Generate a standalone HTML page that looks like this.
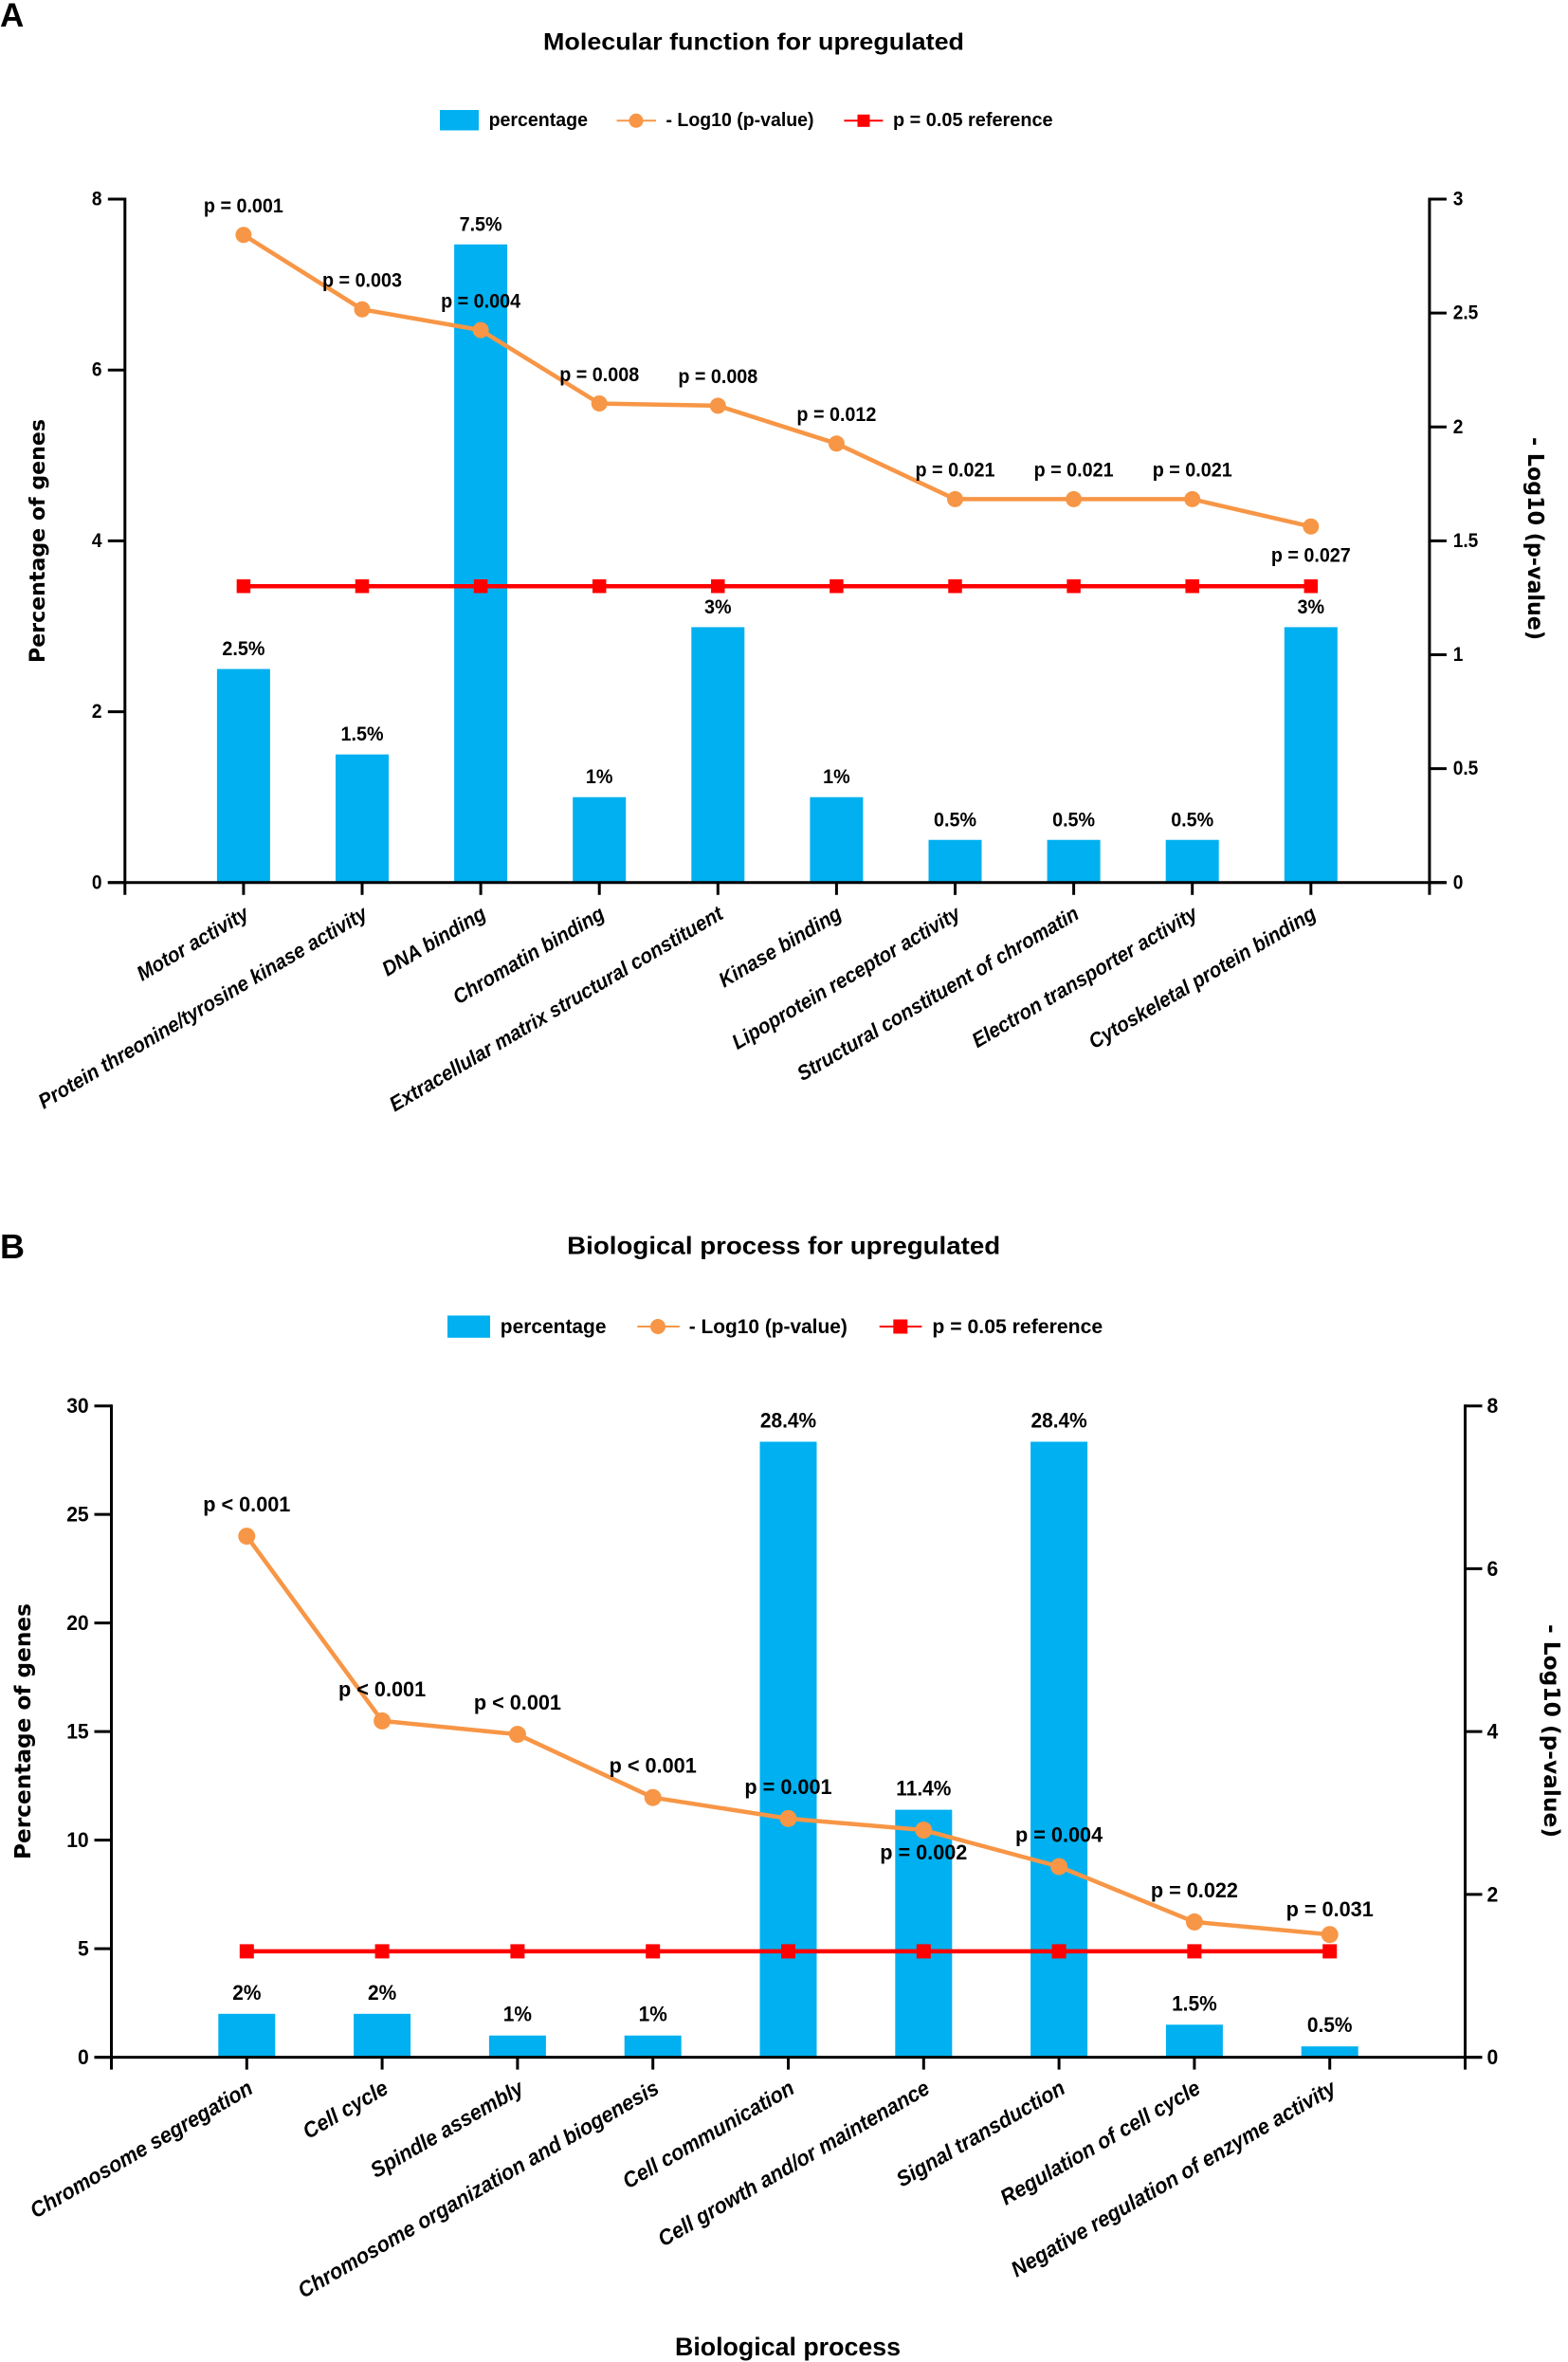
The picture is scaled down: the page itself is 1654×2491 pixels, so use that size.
<!DOCTYPE html>
<html lang="en">
<head>
<meta charset="utf-8">
<title>Gene ontology charts for upregulated genes</title>
<style>
html,body{margin:0;padding:0;background:#fff;}
svg{display:block;}
text{font-family:"Liberation Sans",sans-serif;font-weight:bold;fill:#000;}
.dv{font-family:"DejaVu Sans","Liberation Sans",sans-serif;}
</style>
</head>
<body>
<svg id="figure" xmlns="http://www.w3.org/2000/svg" width="1654" height="2491" viewBox="0 0 1654 2491">
  <rect x="0" y="0" width="1654" height="2491" fill="#fff"/>

  <g id="chartA">
    <text x="0" y="28" font-size="35">A</text>
    <text x="573" y="52.5" font-size="25" textLength="444" lengthAdjust="spacingAndGlyphs">Molecular function for upregulated</text>
    <g>
      <rect x="464" y="116" width="41" height="21.5" fill="#00b0f0"/>
      <text x="515.6" y="133" font-size="20" textLength="104.4" lengthAdjust="spacingAndGlyphs">percentage</text>
      <line x1="650.6" y1="127.3" x2="692" y2="127.3" stroke="#f79646" stroke-width="2"/>
      <circle cx="671" cy="127.3" r="7.5" fill="#f79646"/>
      <text x="702.5" y="133" font-size="20" textLength="156" lengthAdjust="spacingAndGlyphs">- Log10 (p-value)</text>
      <line x1="890.4" y1="127.3" x2="931.4" y2="127.3" stroke="#ff0000" stroke-width="2"/>
      <rect x="904.5" y="120.8" width="13" height="13" fill="#ff0000"/>
      <text x="942" y="133" font-size="20" textLength="168.6" lengthAdjust="spacingAndGlyphs">p = 0.05 reference</text>
    </g>
    <text class="dv" transform="translate(47 699) rotate(-90)" x="0" y="0" font-size="22.5" textLength="257" lengthAdjust="spacingAndGlyphs">Percentage of genes</text>
    <text class="dv" transform="translate(1612 461) rotate(90)" x="0" y="0" font-size="23" textLength="214" lengthAdjust="spacingAndGlyphs">- Log10 (p-value)</text>
  </g>

  <g id="chartB">
    <text x="0" y="1327" font-size="36">B</text>
    <text x="598.2" y="1322.5" font-size="26" textLength="457" lengthAdjust="spacingAndGlyphs">Biological process for upregulated</text>
    <g>
      <rect x="472" y="1387.4" width="45" height="23.4" fill="#00b0f0"/>
      <text x="527.8" y="1406" font-size="21.5" textLength="111.7" lengthAdjust="spacingAndGlyphs">percentage</text>
      <line x1="672.3" y1="1399" x2="716.8" y2="1399" stroke="#f79646" stroke-width="2"/>
      <circle cx="694" cy="1399" r="8" fill="#f79646"/>
      <text x="726.8" y="1406" font-size="21.5" textLength="167" lengthAdjust="spacingAndGlyphs">- Log10 (p-value)</text>
      <line x1="927.7" y1="1399" x2="972.4" y2="1399" stroke="#ff0000" stroke-width="2"/>
      <rect x="942.3" y="1391.5" width="15" height="15" fill="#ff0000"/>
      <text x="983.4" y="1406" font-size="21.5" textLength="179.8" lengthAdjust="spacingAndGlyphs">p = 0.05 reference</text>
    </g>
    <text class="dv" transform="translate(32 1961) rotate(-90)" x="0" y="0" font-size="23.5" textLength="270" lengthAdjust="spacingAndGlyphs">Percentage of genes</text>
    <text class="dv" transform="translate(1629 1713) rotate(90)" x="0" y="0" font-size="23.5" textLength="225" lengthAdjust="spacingAndGlyphs">- Log10 (p-value)</text>
    <text x="712" y="2484" font-size="27" textLength="238" lengthAdjust="spacingAndGlyphs">Biological process</text>
  </g>
</svg>

<script>
// ---- Chart A data: molecular function ----
const aCategories = ["Motor activity","Protein threonine/tyrosine kinase activity","DNA binding","Chromatin binding","Extracellular matrix structural constituent","Kinase binding","Lipoprotein receptor activity","Structural constituent of chromatin","Electron transporter activity","Cytoskeletal protein binding"];
const aPercent = [2.5,1.5,7.47,1,2.99,1,0.5,0.5,0.5,2.99];
const aPercentLabels = ["2.5%","1.5%","7.5%","1%","3%","1%","0.5%","0.5%","0.5%","3%"];
const aLogP = [2.843,2.516,2.425,2.103,2.093,1.927,1.683,1.683,1.683,1.563];
const aPLabels = ["p = 0.001","p = 0.003","p = 0.004","p = 0.008","p = 0.008","p = 0.012","p = 0.021","p = 0.021","p = 0.021","p = 0.027"];
const aReference = [1.301,1.301,1.301,1.301,1.301,1.301,1.301,1.301,1.301,1.301];
const aLeftTicks = [0,2,4,6,8];
const aRightTicks = [0,0.5,1,1.5,2,2.5,3];

// ---- Chart B data: biological process ----
const bCategories = ["Chromosome segregation","Cell cycle","Spindle assembly","Chromosome organization and biogenesis","Cell communication","Cell growth and/or maintenance","Signal transduction","Regulation of cell cycle","Negative regulation of enzyme activity"];
const bPercent = [2,2,1,1,28.35,11.4,28.35,1.5,0.5];
const bPercentLabels = ["2%","2%","1%","1%","28.4%","11.4%","28.4%","1.5%","0.5%"];
const bLogP = [6.40,4.131,3.966,3.19,2.932,2.79,2.342,1.662,1.507];
const bPLabels = ["p < 0.001","p < 0.001","p < 0.001","p < 0.001","p = 0.001","p = 0.002","p = 0.004","p = 0.022","p = 0.031"];
const bReference = [1.301,1.301,1.301,1.301,1.301,1.301,1.301,1.301,1.301];
const bLeftTicks = [0,5,10,15,20,25,30];
const bRightTicks = [0,2,4,6,8];

const SVG_NS = "http://www.w3.org/2000/svg";

function shape(parent, tag, attrs) {
  const el = document.createElementNS(SVG_NS, tag);
  for (const k in attrs) el.setAttribute(k, attrs[k]);
  parent.appendChild(el);
  return el;
}

function label(parent, str, x, y, size, fit, extra) {
  const el = shape(parent, "text", Object.assign({x: x, y: y, "font-size": size}, extra || {}));
  el.textContent = str;
  if (fit !== 1) {
    el.setAttribute("textLength", (el.getComputedTextLength() * fit).toFixed(2));
    el.setAttribute("lengthAdjust", "spacingAndGlyphs");
  }
  return el;
}

function drawChart(root, d, g) {
  const xAt = function (i) { return g.left + g.step * (i + 1); };
  const yLeft = function (v) { return g.zero - v * (g.zero - g.top) / g.leftMax; };
  const yRight = function (v) { return g.zero - v * (g.zero - g.top) / g.rightMax; };
  const axisRight = g.left + g.step * (d.categories.length + 1);

  // bars
  const bars = shape(root, "g", {});
  
  
  d.percent.forEach(function (v, i) {
    const r = shape(bars, "rect", {x: xAt(i) - g.barW / 2, y: yLeft(v), width: g.barW, height: g.zero - yLeft(v), fill: "#00b0f0"});
    
    
  });

  // axes
  const axes = shape(root, "g", {stroke: "#000", "stroke-width": 3, fill: "none"});
  
  
  const xAxis = shape(axes, "line", {x1: g.left - g.tickLen, y1: g.zero, x2: axisRight + g.tickLen, y2: g.zero});
  
  
  const lAxis = shape(axes, "line", {x1: g.left, y1: g.top - 1.5, x2: g.left, y2: g.zero + g.xTickLen});
  
  
  const rAxis = shape(axes, "line", {x1: axisRight, y1: g.top - 1.5, x2: axisRight, y2: g.zero + g.xTickLen});
  
  

  d.leftTicks.forEach(function (v) {
    const t = shape(axes, "line", {x1: g.left - g.tickLen, y1: yLeft(v), x2: g.left, y2: yLeft(v)});
    
    
    const tl = label(root, String(v), g.left - g.leftLabelGap, yLeft(v) + g.tickBase, g.tickSize, g.tickFit, {"text-anchor": "end"});
    
    
  });
  d.rightTicks.forEach(function (v) {
    const t = shape(axes, "line", {x1: axisRight, y1: yRight(v), x2: axisRight + g.tickLen, y2: yRight(v)});
    
    
    const tl = label(root, String(v), axisRight + g.rightLabelGap, yRight(v) + g.tickBase, g.tickSize, g.tickFit);
    
    
  });

  // category ticks and rotated labels
  d.categories.forEach(function (c, i) {
    const t = shape(axes, "line", {x1: xAt(i), y1: g.zero, x2: xAt(i), y2: g.zero + g.xTickLen});
    
    
    const ax = xAt(i) + g.catDx;
    const ay = g.zero + g.catDy;
    const cl = label(root, c, ax, ay, g.catSize, g.catFit, {"text-anchor": "end", "font-style": "italic", transform: "rotate(" + g.catAngle + " " + ax + " " + ay + ")"});
    
    
  });

  // reference line
  const refPts = d.reference.map(function (v, i) { return xAt(i) + "," + yRight(v); }).join(" ");
  const refLine = shape(root, "polyline", {points: refPts, fill: "none", stroke: "#ff0000", "stroke-width": 4.5});
  
  
  d.reference.forEach(function (v, i) {
    const m = shape(root, "rect", {x: xAt(i) - g.square / 2, y: yRight(v) - g.square / 2, width: g.square, height: g.square, fill: "#ff0000"});
    
    
  });

  // -log10(p) line
  const logPts = d.logP.map(function (v, i) { return xAt(i) + "," + yRight(v); }).join(" ");
  const logLine = shape(root, "polyline", {points: logPts, fill: "none", stroke: "#f79646", "stroke-width": 4.5, "stroke-linejoin": "round"});
  
  
  d.logP.forEach(function (v, i) {
    const m = shape(root, "circle", {cx: xAt(i), cy: yRight(v), r: g.dot, fill: "#f79646"});
    
    
  });

  // value labels
  d.percentLabels.forEach(function (s, i) {
    const l = label(root, s, xAt(i), yLeft(d.percent[i]) - g.pctGap, g.labelSize, g.pctFit, {"text-anchor": "middle"});
    
    
  });
  d.pLabels.forEach(function (s, i) {
    const off = i in g.pOffsets ? g.pOffsets[i] : g.pAbove;
    const l = label(root, s, xAt(i) + g.pDx, yRight(d.logP[i]) + off, g.labelSize, g.pFit, {"text-anchor": "middle"});
    
    
  });
}

drawChart(document.getElementById("chartA"),
  {categories: aCategories, percent: aPercent, percentLabels: aPercentLabels, logP: aLogP, pLabels: aPLabels, reference: aReference, leftTicks: aLeftTicks, rightTicks: aRightTicks},
  {left: 131.8, step: 125.1, top: 210, zero: 930.8, leftMax: 8, rightMax: 3, barW: 56, tickLen: 18, xTickLen: 13,
   leftLabelGap: 24.3, rightLabelGap: 24.8, tickBase: 6.5, tickSize: 21, tickFit: 0.91,
   catDx: 7, catDy: 37, catSize: 22, catFit: 0.925, catAngle: -30.5, square: 14.5, dot: 8.5,
   labelSize: 21, pctGap: 14.5, pctFit: 0.94, pFit: 0.94, pDx: 0, pAbove: -23.7, pOffsets: {9: 37}});

drawChart(document.getElementById("chartB"),
  {categories: bCategories, percent: bPercent, percentLabels: bPercentLabels, logP: bLogP, pLabels: bPLabels, reference: bReference, leftTicks: bLeftTicks, rightTicks: bRightTicks},
  {left: 117.5, step: 142.8, top: 1482.7, zero: 2169.6, leftMax: 30, rightMax: 8, barW: 60, tickLen: 18, xTickLen: 13,
   leftLabelGap: 23.8, rightLabelGap: 23, tickBase: 7.5, tickSize: 22, tickFit: 0.96,
   catDx: 8, catDy: 37, catSize: 23, catFit: 0.935, catAngle: -30, square: 15, dot: 9,
   labelSize: 22, pctGap: 15, pctFit: 0.95, pFit: 0.985, pDx: 0, pAbove: -26, pOffsets: {5: 31, 8: -19}});
</script>
</body>
</html>
